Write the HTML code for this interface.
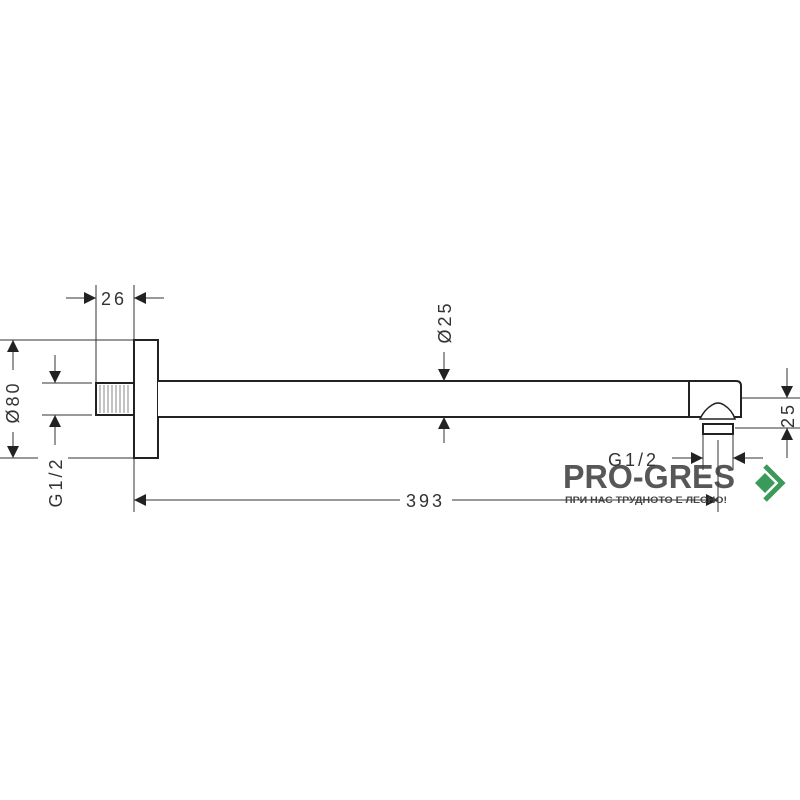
<!DOCTYPE html>
<html><head><meta charset="utf-8"><style>body{margin:0;background:#fff}svg{display:block}</style></head><body>
<svg width="800" height="800" viewBox="0 0 800 800" xmlns="http://www.w3.org/2000/svg">
<defs>
<marker id="a" viewBox="0 0 10 10" refX="10" refY="5" markerWidth="12" markerHeight="12" markerUnits="userSpaceOnUse" orient="auto"><path d="M0,0L10,5L0,10z" fill="#222"/></marker>
</defs>
<g stroke="#333" stroke-width="1" fill="none">
<line x1="96" y1="285" x2="96" y2="383"/>
<line x1="134" y1="285" x2="134" y2="512"/>
<line x1="0" y1="340" x2="134" y2="340"/>
<line x1="0" y1="458" x2="38" y2="458"/><line x1="68" y1="458" x2="134" y2="458"/>
<line x1="42" y1="383" x2="92" y2="383"/>
<line x1="42" y1="415" x2="92" y2="415"/>
<line x1="740" y1="398" x2="800" y2="398"/>
<line x1="735" y1="428" x2="800" y2="428"/>
<line x1="703" y1="430" x2="703" y2="470"/>
<line x1="733" y1="430" x2="733" y2="470"/>
<line x1="718" y1="440" x2="718" y2="512"/>
<line x1="66" y1="298" x2="96" y2="298" marker-end="url(#a)"/>
<line x1="164" y1="298" x2="134" y2="298" marker-end="url(#a)"/>
<line x1="13" y1="370" x2="13" y2="340" marker-end="url(#a)"/>
<line x1="13" y1="432" x2="13" y2="458" marker-end="url(#a)"/>
<line x1="55" y1="355" x2="55" y2="383" marker-end="url(#a)"/>
<line x1="55" y1="445" x2="55" y2="415" marker-end="url(#a)"/>
<line x1="444" y1="352" x2="444" y2="381" marker-end="url(#a)"/>
<line x1="444" y1="443" x2="444" y2="417" marker-end="url(#a)"/>
<line x1="400" y1="500" x2="134" y2="500" marker-end="url(#a)"/>
<line x1="452" y1="500" x2="718" y2="500" marker-end="url(#a)"/>
<line x1="787" y1="368" x2="787" y2="398" marker-end="url(#a)"/>
<line x1="787" y1="458" x2="787" y2="428" marker-end="url(#a)"/>
<line x1="672" y1="458" x2="703" y2="458" marker-end="url(#a)"/>
<line x1="763" y1="458" x2="733" y2="458" marker-end="url(#a)"/>
</g>
<g stroke="#222" stroke-width="2" fill="#fff">
<rect x="134" y="340" width="24" height="118"/>
<rect x="96" y="383" width="38" height="32"/>
<path d="M158,381 H736 Q741,381 741,386 V417 H158"/>
<line x1="689" y1="381" x2="689" y2="417"/>
<path d="M700,419 Q704,410 712,405 Q718,401 724,405 Q732,410 735,419 Z" stroke-width="1.5"/>
<rect x="703" y="424" width="30" height="10" stroke-width="2"/>
</g>
<g stroke="#555" stroke-width="0.7">
<line x1="100" y1="385" x2="100" y2="413"/><line x1="104" y1="385" x2="104" y2="413"/><line x1="108" y1="385" x2="108" y2="413"/><line x1="112" y1="385" x2="112" y2="413"/><line x1="116" y1="385" x2="116" y2="413"/><line x1="120" y1="385" x2="120" y2="413"/><line x1="124" y1="385" x2="124" y2="413"/><line x1="128" y1="385" x2="128" y2="413"/>
</g>
<g font-family="Liberation Sans, sans-serif" font-size="18" fill="#333" letter-spacing="3">
<text x="101" y="305">26</text>
<text x="406" y="507">393</text>
<text x="608" y="466">G1/2</text>
<text transform="translate(19,402) rotate(-90)" text-anchor="middle">Ø80</text>
<text transform="translate(62,482) rotate(-90)" text-anchor="middle">G1/2</text>
<text transform="translate(451,322) rotate(-90)" text-anchor="middle">Ø25</text>
<text transform="translate(794,415) rotate(-90)" text-anchor="middle">25</text>
</g>
<text x="563" y="488" textLength="172" lengthAdjust="spacingAndGlyphs" font-family="Liberation Sans, sans-serif" font-weight="bold" font-size="33" fill="#3a3a3a" fill-opacity="0.85">PRO-GRES</text>
<text x="565" y="503" textLength="162" lengthAdjust="spacingAndGlyphs" font-family="Liberation Sans, sans-serif" font-weight="bold" font-size="9.5" fill="#444">ПРИ НАС ТРУДНОТО Е ЛЕСНО!</text>
<path d="M755,483 L765,473 L775,483 L765,493Z" fill="#3a9a5a"/>
<path d="M765,466 L782,483 L765,500" stroke="#3a9a5a" stroke-width="5" fill="none"/>
</svg>
</body></html>
